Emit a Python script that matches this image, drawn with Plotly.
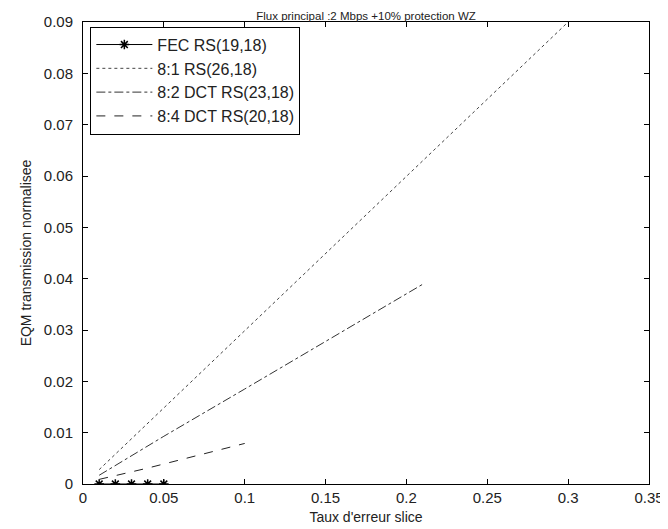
import plotly.graph_objects as go

# taux d'erreur slice
taux_fec = [0.01, 0.02, 0.03, 0.04, 0.05]
eqm_fec = [0.0, 0.0, 0.0, 0.0, 0.0]

taux_81 = [0.01, 0.02, 0.03, 0.04, 0.05, 0.1, 0.15, 0.2, 0.25, 0.3]
eqm_81 = [0.0028, 0.0058, 0.0088, 0.0119, 0.0149, 0.0299, 0.0449, 0.0599, 0.0749, 0.09]

taux_82 = [0.01, 0.02, 0.03, 0.04, 0.05, 0.1, 0.15, 0.21]
eqm_82 = [0.0017, 0.0036, 0.0055, 0.0074, 0.0093, 0.0185, 0.0278, 0.0389]

taux_84 = [0.01, 0.02, 0.03, 0.04, 0.05, 0.06, 0.07, 0.08, 0.09, 0.1]
eqm_84 = [0.0009, 0.0016, 0.0023, 0.0031, 0.0039, 0.0047, 0.0055, 0.0063, 0.0071, 0.0079]

x_ticks = [0, 0.05, 0.1, 0.15, 0.2, 0.25, 0.3, 0.35]
y_ticks = [0, 0.01, 0.02, 0.03, 0.04, 0.05, 0.06, 0.07, 0.08, 0.09]

font = "Liberation Sans"
txt = "#222"
fig = go.Figure()
fig.add_trace(go.Scatter(
    x=taux_fec, y=eqm_fec, name="FEC RS(19,18)",
    mode="lines+markers",
    line=dict(color="black", width=1),
    marker=dict(symbol="asterisk-open", size=8, color="black",
                line=dict(color="black", width=1.5)),
))
fig.add_trace(go.Scatter(
    x=taux_81, y=eqm_81, name="8:1 RS(26,18)",
    mode="lines",
    line=dict(color="#444", width=1, dash="dot"),
))
fig.add_trace(go.Scatter(
    x=taux_82, y=eqm_82, name="8:2 DCT RS(23,18)",
    mode="lines",
    line=dict(color="#333", width=1, dash="dashdot"),
))
fig.add_trace(go.Scatter(
    x=taux_84, y=eqm_84, name="8:4 DCT RS(20,18)",
    mode="lines",
    line=dict(color="#222", width=1, dash="dash"),
))

axis_style = dict(
    showline=True, linecolor="black", linewidth=1, mirror="ticks",
    ticks="inside", ticklen=5, tickcolor="black",
    showgrid=False, zeroline=False, automargin=False,
    tickfont=dict(family=font, size=15, color=txt),
)
fig.update_xaxes(range=[0, 0.35], tickvals=x_ticks,
                 title=dict(text="Taux d'erreur slice", standoff=7,
                            font=dict(family=font, size=14, color=txt)),
                 **axis_style)
fig.update_yaxes(range=[0, 0.09], tickvals=y_ticks, ticklabelstandoff=6,
                 title=dict(text="EQM transmission normalisee", standoff=8,
                            font=dict(family=font, size=14, color=txt)),
                 **axis_style)
fig.update_layout(
    width=668, height=529,
    margin=dict(l=75, r=27, t=14, b=53),
    plot_bgcolor="white", paper_bgcolor="white",
    title=dict(text="Flux principal :2 Mbps +10% protection WZ",
               x=0.5, xref="paper", y=1, yref="paper", yanchor="bottom",
               automargin=False, pad=dict(b=2),
               font=dict(family=font, size=11.5, color=txt)),
    legend=dict(x=0.013, y=0.99, xanchor="left", yanchor="top",
                bordercolor="black", borderwidth=1, bgcolor="white",
                itemwidth=56,
                font=dict(family=font, size=16, color=txt)),
    showlegend=True,
)
fig.write_html("out.html")
